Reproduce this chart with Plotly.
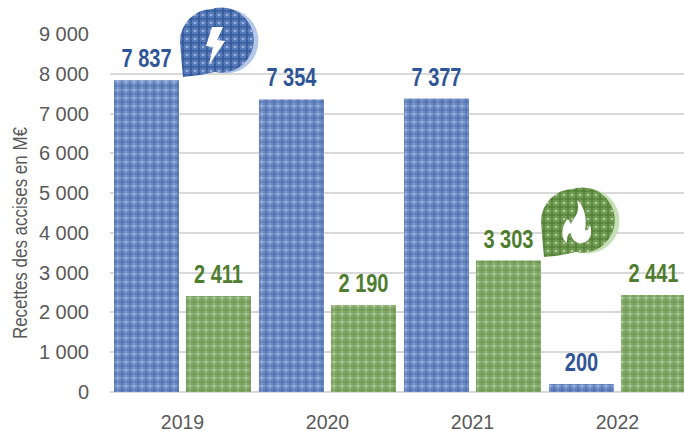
import base64
import plotly.graph_objects as go

years = ["2019", "2020", "2021", "2022"]
elec = [7837, 7354, 7377, 200]
gaz = [2411, 2190, 3303, 2441]
y_ticks = [0, 1000, 2000, 3000, 4000, 5000, 6000, 7000, 8000, 9000]
y_labels = ["0", "1 000", "2 000", "3 000", "4 000", "5 000", "6 000", "7 000", "8 000", "9 000"]
y_title = "Recettes des accises en M€"

BLUE, BLUE_BG, BLUE_FINE, BLUE_LIGHT = "#2F5597", "#9DB3DC", "#567ABA", "#B4C7E7"
GREEN, GREEN_BG, GREEN_FINE, GREEN_LIGHT = "#4F7D30", "#B0CB9C", "#719B55", "#C5E0B4"
W, H = 684, 431
L, T, B = 110, 34, 39
PH = H - T - B


def fmt(v):
    return f"{v:,}".replace(",", " ")


def callout(dark, bg, fine, light, icon):
    pat = f'''<pattern id="p" width="8" height="8" patternUnits="userSpaceOnUse">
<rect width="8" height="8" fill="{bg}"/>
<path d="M0 2H8M0 6H8M2 0V8M6 0V8" stroke="{fine}" stroke-width="1.8"/>
<path d="M0 4H8M4 0V8" stroke="{dark}" stroke-width="1.6"/></pattern>'''
    svg = f'''<svg xmlns="http://www.w3.org/2000/svg" width="84" height="74" viewBox="0 0 84 74"><defs>{pat}</defs>
<circle cx="47" cy="34" r="32.5" fill="{light}"/>
<path d="M33 2 A32.5 32.5 0 1 1 36 65 Q20 69 4 70 Q2 50 1 34 A32.5 32.5 0 0 1 33 2Z" fill="url(#p)"/>
{icon}</svg>'''
    return "data:image/svg+xml;base64," + base64.b64encode(svg.encode()).decode()


bolt = '<path d="M33 20H44L38 33L46 34L30 58L34 40L27 39Z" fill="white"/>'
flame = ('<path d="M37 13C41 26 34 30 31 37C29 33 28 31 26 34C21 42 21 52 27 56C27 49 28 46 31 46'
         'C31 52 36 57 42 56C50 55 53 47 50 38C49 42 47 44 45 43C47 32 45 20 37 13Z" fill="white"/>')

fig = go.Figure()
for name, vals, dark, bg, fine in [("Électricité", elec, BLUE, BLUE_BG, BLUE_FINE), ("Gaz", gaz, GREEN, GREEN_BG, GREEN_FINE)]:
    fig.add_bar(name=name, x=years, y=vals, text=[fmt(v) for v in vals], textposition="outside", cliponaxis=False,
                marker=dict(color=bg, line=dict(width=0),
                            pattern=dict(shape="+", size=4, solidity=0.42, fgcolor=fine, bgcolor=bg, fillmode="replace")),
                textfont=dict(color=dark, family="Liberation Sans", size=25, weight="bold"))
for name, vals, dark in [("Électricité", elec, BLUE), ("Gaz", gaz, GREEN)]:
    fig.add_bar(name=name, x=years, y=vals, xaxis="x2", yaxis="y2", hoverinfo="skip",
                marker=dict(color="rgba(0,0,0,0)", line=dict(width=0),
                            pattern=dict(shape="+", size=8, solidity=0.2, fgcolor=dark, bgcolor="rgba(0,0,0,0)", fillmode="replace")))


def img(src, x, y, w, h):
    return dict(source=src, xref="paper", yref="paper", xanchor="left", yanchor="top", sizing="stretch",
                layer="above", x=(x - L) / (W - L), y=(T + PH - y) / PH, sizex=w / (W - L), sizey=h / PH)


xa = dict(type="category", range=[-0.5, 3.459], showgrid=False, ticks="", showline=False, automargin=False)
ya = dict(range=[0, 9000], tickvals=y_ticks, automargin=False)
fig.update_layout(
    width=W, height=H, autosize=False, showlegend=False,
    margin=dict(l=L, r=0, t=T, b=B),
    paper_bgcolor="white", plot_bgcolor="white",
    barmode="group", bargap=0.007, bargroupgap=0.097,
    font=dict(family="Liberation Sans", color="#595959", size=19),
    xaxis=dict(**xa, tickfont=dict(size=19.5), ticklabelstandoff=16),
    yaxis=dict(**ya, ticktext=y_labels, showgrid=True, gridcolor="#D9D9D9",
               gridwidth=2, zeroline=True, zerolinecolor="#D9D9D9", zerolinewidth=2, ticks="",
               tickfont=dict(size=20), ticklabelstandoff=20),
    xaxis2=dict(**xa, overlaying="x", showticklabels=False),
    yaxis2=dict(**ya, overlaying="y", showticklabels=False, showgrid=False, zeroline=False),
    annotations=[dict(text=y_title, textangle=-90, xref="paper", yref="paper", showarrow=False,
                      xanchor="center", yanchor="middle",
                      x=(20 - L) / (W - L), y=(T + PH - 233) / PH, font=dict(size=19.5))],
    images=[img(callout(BLUE, BLUE_BG, BLUE_FINE, BLUE_LIGHT, bolt), 179, 7, 84, 74),
            img(callout(GREEN, GREEN_BG, GREEN_FINE, GREEN_LIGHT, flame), 540, 187, 84, 74)],
)
narrow = """document.body.style.margin='0';
function squeeze(sel, k, up){
  document.querySelectorAll(sel).forEach(function(t){
    var b=t.getBBox(), cx=b.x+b.width/2, cy=b.y+b.height/2, tr=t.getAttribute('transform')||'';
    t.setAttribute('transform', tr+' translate('+cx+','+(cy-up)+') scale('+k+',1) translate('+(-cx)+','+(-cy)+')');
  });
}
squeeze('.bartext text, text.bartext', 0.8, 5);
squeeze('text.annotation-text', 0.87, 0);"""
fig.write_html("out.html", post_script=narrow, config=dict(displayModeBar=False))
